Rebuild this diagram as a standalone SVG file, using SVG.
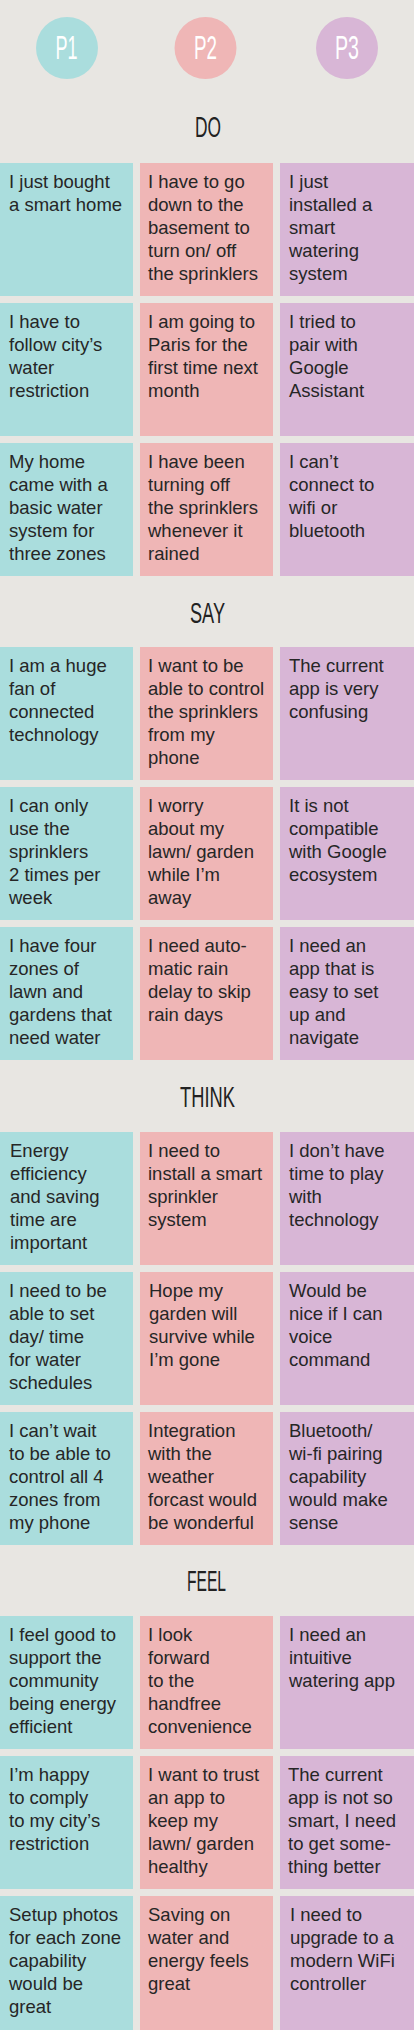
<svg xmlns="http://www.w3.org/2000/svg" width="414" height="2030" viewBox="0 0 414 2030">
<style>
.bg{fill:#e8e6e2}
.c1{fill:#aadddd}.c2{fill:#efb6b6}.c3{fill:#d8b6d6}
.t{font-family:"Liberation Sans",Arial,sans-serif;font-size:18.5px;fill:#262626}
.h{font-family:"Liberation Sans",Arial,sans-serif;font-size:29px;fill:#222;text-anchor:middle}
.p{font-family:"Liberation Sans",Arial,sans-serif;font-size:33.5px;fill:#fff;text-anchor:middle}
</style>
<rect class="bg" x="0" y="0" width="414" height="2030"/>
<g id="personas">
<g id="p1"><circle class="c1" cx="67" cy="48" r="31"/><text class="p" x="66.5" y="59" textLength="22" lengthAdjust="spacingAndGlyphs">P1</text></g>
<g id="p2"><circle class="c2" cx="205.5" cy="48" r="31"/><text class="p" x="205.5" y="59" textLength="23" lengthAdjust="spacingAndGlyphs">P2</text></g>
<g id="p3"><circle class="c3" cx="347" cy="48" r="31"/><text class="p" x="347" y="59" textLength="24" lengthAdjust="spacingAndGlyphs">P3</text></g>
</g>
<g id="headings">
<text id="h-do" class="h" x="208" y="137" textLength="26" lengthAdjust="spacingAndGlyphs">DO</text>
<text id="h-say" class="h" x="207.5" y="623" textLength="35" lengthAdjust="spacingAndGlyphs">SAY</text>
<text id="h-think" class="h" x="207.5" y="1107" textLength="55" lengthAdjust="spacingAndGlyphs">THINK</text>
<text id="h-feel" class="h" x="206.5" y="1591" textLength="39" lengthAdjust="spacingAndGlyphs">FEEL</text>
</g>
<g id="connectors"/>

<!-- DO -->
<g id="do-p1-1"><rect class="c1" x="0" y="163" width="133" height="133"/><text class="t" x="9" y="188"><tspan x="9">I just bought</tspan><tspan x="9" dy="23">a smart home</tspan></text></g>
<g id="do-p2-1"><rect class="c2" x="140" y="163" width="133" height="133"/><text class="t" x="148" y="188"><tspan x="148">I have to go</tspan><tspan x="148" dy="23">down to the</tspan><tspan x="148" dy="23">basement to</tspan><tspan x="148" dy="23">turn on/ off</tspan><tspan x="148" dy="23">the sprinklers</tspan></text></g>
<g id="do-p3-1"><rect class="c3" x="280" y="163" width="134" height="133"/><text class="t" x="289" y="188"><tspan x="289">I just</tspan><tspan x="289" dy="23">installed a</tspan><tspan x="289" dy="23">smart</tspan><tspan x="289" dy="23">watering</tspan><tspan x="289" dy="23">system</tspan></text></g>

<g id="do-p1-2"><rect class="c1" x="0" y="303" width="133" height="133"/><text class="t" x="9" y="328"><tspan x="9">I have to</tspan><tspan x="9" dy="23">follow city’s</tspan><tspan x="9" dy="23">water</tspan><tspan x="9" dy="23">restriction</tspan></text></g>
<g id="do-p2-2"><rect class="c2" x="140" y="303" width="133" height="133"/><text class="t" x="148" y="328"><tspan x="148">I am going to</tspan><tspan x="148" dy="23">Paris for the</tspan><tspan x="148" dy="23">first time next</tspan><tspan x="148" dy="23">month</tspan></text></g>
<g id="do-p3-2"><rect class="c3" x="280" y="303" width="134" height="133"/><text class="t" x="289" y="328"><tspan x="289">I tried to</tspan><tspan x="289" dy="23">pair with</tspan><tspan x="289" dy="23">Google</tspan><tspan x="289" dy="23">Assistant</tspan></text></g>

<g id="do-p1-3"><rect class="c1" x="0" y="443" width="133" height="133"/><text class="t" x="9" y="468"><tspan x="9">My home</tspan><tspan x="9" dy="23">came with a</tspan><tspan x="9" dy="23">basic water</tspan><tspan x="9" dy="23">system for</tspan><tspan x="9" dy="23">three zones</tspan></text></g>
<g id="do-p2-3"><rect class="c2" x="140" y="443" width="133" height="133"/><text class="t" x="148" y="468"><tspan x="148">I have been</tspan><tspan x="148" dy="23">turning off</tspan><tspan x="148" dy="23">the sprinklers</tspan><tspan x="148" dy="23">whenever it</tspan><tspan x="148" dy="23">rained</tspan></text></g>
<g id="do-p3-3"><rect class="c3" x="280" y="443" width="134" height="133"/><text class="t" x="289" y="468"><tspan x="289">I can’t</tspan><tspan x="289" dy="23">connect to</tspan><tspan x="289" dy="23">wifi or</tspan><tspan x="289" dy="23">bluetooth</tspan></text></g>

<!-- SAY -->
<g id="say-p1-1"><rect class="c1" x="0" y="647" width="133" height="133"/><text class="t" x="9" y="672"><tspan x="9">I am a huge</tspan><tspan x="9" dy="23">fan of</tspan><tspan x="9" dy="23">connected</tspan><tspan x="9" dy="23">technology</tspan></text></g>
<g id="say-p2-1"><rect class="c2" x="140" y="647" width="133" height="133"/><text class="t" x="148" y="672"><tspan x="148">I want to be</tspan><tspan x="148" dy="23">able to control</tspan><tspan x="148" dy="23">the sprinklers</tspan><tspan x="148" dy="23">from my</tspan><tspan x="148" dy="23">phone</tspan></text></g>
<g id="say-p3-1"><rect class="c3" x="280" y="647" width="134" height="133"/><text class="t" x="289" y="672"><tspan x="289">The current</tspan><tspan x="289" dy="23">app is very</tspan><tspan x="289" dy="23">confusing</tspan></text></g>

<g id="say-p1-2"><rect class="c1" x="0" y="787" width="133" height="133"/><text class="t" x="9" y="812"><tspan x="9">I can only</tspan><tspan x="9" dy="23">use the</tspan><tspan x="9" dy="23">sprinklers</tspan><tspan x="9" dy="23">2 times per</tspan><tspan x="9" dy="23">week</tspan></text></g>
<g id="say-p2-2"><rect class="c2" x="140" y="787" width="133" height="133"/><text class="t" x="148" y="812"><tspan x="148">I worry</tspan><tspan x="148" dy="23">about my</tspan><tspan x="148" dy="23">lawn/ garden</tspan><tspan x="148" dy="23">while I’m</tspan><tspan x="148" dy="23">away</tspan></text></g>
<g id="say-p3-2"><rect class="c3" x="280" y="787" width="134" height="133"/><text class="t" x="289" y="812"><tspan x="289">It is not</tspan><tspan x="289" dy="23">compatible</tspan><tspan x="289" dy="23">with Google</tspan><tspan x="289" dy="23">ecosystem</tspan></text></g>

<g id="say-p1-3"><rect class="c1" x="0" y="927" width="133" height="133"/><text class="t" x="9" y="952"><tspan x="9">I have four</tspan><tspan x="9" dy="23">zones of</tspan><tspan x="9" dy="23">lawn and</tspan><tspan x="9" dy="23">gardens that</tspan><tspan x="9" dy="23">need water</tspan></text></g>
<g id="say-p2-3"><rect class="c2" x="140" y="927" width="133" height="133"/><text class="t" x="148" y="952"><tspan x="148">I need auto-</tspan><tspan x="148" dy="23">matic rain</tspan><tspan x="148" dy="23">delay to skip</tspan><tspan x="148" dy="23">rain days</tspan></text></g>
<g id="say-p3-3"><rect class="c3" x="280" y="927" width="134" height="133"/><text class="t" x="289" y="952"><tspan x="289">I need an</tspan><tspan x="289" dy="23">app that is</tspan><tspan x="289" dy="23">easy to set</tspan><tspan x="289" dy="23">up and</tspan><tspan x="289" dy="23">navigate</tspan></text></g>

<!-- THINK -->
<g id="think-p1-1"><rect class="c1" x="0" y="1132" width="133" height="133"/><text class="t" x="10" y="1157"><tspan x="10">Energy</tspan><tspan x="10" dy="23">efficiency</tspan><tspan x="10" dy="23">and saving</tspan><tspan x="10" dy="23">time are</tspan><tspan x="10" dy="23">important</tspan></text></g>
<g id="think-p2-1"><rect class="c2" x="140" y="1132" width="133" height="133"/><text class="t" x="148" y="1157"><tspan x="148">I need to</tspan><tspan x="148" dy="23">install a smart</tspan><tspan x="148" dy="23">sprinkler</tspan><tspan x="148" dy="23">system</tspan></text></g>
<g id="think-p3-1"><rect class="c3" x="280" y="1132" width="134" height="133"/><text class="t" x="289" y="1157"><tspan x="289">I don’t have</tspan><tspan x="289" dy="23">time to play</tspan><tspan x="289" dy="23">with</tspan><tspan x="289" dy="23">technology</tspan></text></g>

<g id="think-p1-2"><rect class="c1" x="0" y="1272" width="133" height="133"/><text class="t" x="9" y="1297"><tspan x="9">I need to be</tspan><tspan x="9" dy="23">able to set</tspan><tspan x="9" dy="23">day/ time</tspan><tspan x="9" dy="23">for water</tspan><tspan x="9" dy="23">schedules</tspan></text></g>
<g id="think-p2-2"><rect class="c2" x="140" y="1272" width="133" height="133"/><text class="t" x="149" y="1297"><tspan x="149">Hope my</tspan><tspan x="149" dy="23">garden will</tspan><tspan x="149" dy="23">survive while</tspan><tspan x="149" dy="23">I’m gone</tspan></text></g>
<g id="think-p3-2"><rect class="c3" x="280" y="1272" width="134" height="133"/><text class="t" x="289" y="1297"><tspan x="289">Would be</tspan><tspan x="289" dy="23">nice if I can</tspan><tspan x="289" dy="23">voice</tspan><tspan x="289" dy="23">command</tspan></text></g>

<g id="think-p1-3"><rect class="c1" x="0" y="1412" width="133" height="133"/><text class="t" x="9" y="1437"><tspan x="9">I can’t wait</tspan><tspan x="9" dy="23">to be able to</tspan><tspan x="9" dy="23">control all 4</tspan><tspan x="9" dy="23">zones from</tspan><tspan x="9" dy="23">my phone</tspan></text></g>
<g id="think-p2-3"><rect class="c2" x="140" y="1412" width="133" height="133"/><text class="t" x="148" y="1437"><tspan x="148">Integration</tspan><tspan x="148" dy="23">with the</tspan><tspan x="148" dy="23">weather</tspan><tspan x="148" dy="23">forcast would</tspan><tspan x="148" dy="23">be wonderful</tspan></text></g>
<g id="think-p3-3"><rect class="c3" x="280" y="1412" width="134" height="133"/><text class="t" x="289" y="1437"><tspan x="289">Bluetooth/</tspan><tspan x="289" dy="23">wi-fi pairing</tspan><tspan x="289" dy="23">capability</tspan><tspan x="289" dy="23">would make</tspan><tspan x="289" dy="23">sense</tspan></text></g>

<!-- FEEL -->
<g id="feel-p1-1"><rect class="c1" x="0" y="1616" width="133" height="133"/><text class="t" x="9" y="1641"><tspan x="9">I feel good to</tspan><tspan x="9" dy="23">support the</tspan><tspan x="9" dy="23">community</tspan><tspan x="9" dy="23">being energy</tspan><tspan x="9" dy="23">efficient</tspan></text></g>
<g id="feel-p2-1"><rect class="c2" x="140" y="1616" width="133" height="133"/><text class="t" x="148" y="1641"><tspan x="148">I look</tspan><tspan x="148" dy="23">forward</tspan><tspan x="148" dy="23">to the</tspan><tspan x="148" dy="23">handfree</tspan><tspan x="148" dy="23">convenience</tspan></text></g>
<g id="feel-p3-1"><rect class="c3" x="280" y="1616" width="134" height="133"/><text class="t" x="289" y="1641"><tspan x="289">I need an</tspan><tspan x="289" dy="23">intuitive</tspan><tspan x="289" dy="23">watering app</tspan></text></g>

<g id="feel-p1-2"><rect class="c1" x="0" y="1756" width="133" height="133"/><text class="t" x="9" y="1781"><tspan x="9">I’m happy</tspan><tspan x="9" dy="23">to comply</tspan><tspan x="9" dy="23">to my city’s</tspan><tspan x="9" dy="23">restriction</tspan></text></g>
<g id="feel-p2-2"><rect class="c2" x="140" y="1756" width="133" height="133"/><text class="t" x="148" y="1781"><tspan x="148">I want to trust</tspan><tspan x="148" dy="23">an app to</tspan><tspan x="148" dy="23">keep my</tspan><tspan x="148" dy="23">lawn/ garden</tspan><tspan x="148" dy="23">healthy</tspan></text></g>
<g id="feel-p3-2"><rect class="c3" x="280" y="1756" width="134" height="133"/><text class="t" x="288" y="1781"><tspan x="288">The current</tspan><tspan x="288" dy="23">app is not so</tspan><tspan x="288" dy="23">smart, I need</tspan><tspan x="288" dy="23">to get some-</tspan><tspan x="288" dy="23">thing better</tspan></text></g>

<g id="feel-p1-3"><rect class="c1" x="0" y="1896" width="133" height="134"/><text class="t" x="9" y="1921"><tspan x="9">Setup photos</tspan><tspan x="9" dy="23">for each zone</tspan><tspan x="9" dy="23">capability</tspan><tspan x="9" dy="23">would be</tspan><tspan x="9" dy="23">great</tspan></text></g>
<g id="feel-p2-3"><rect class="c2" x="140" y="1896" width="133" height="134"/><text class="t" x="148" y="1921"><tspan x="148">Saving on</tspan><tspan x="148" dy="23">water and</tspan><tspan x="148" dy="23">energy feels</tspan><tspan x="148" dy="23">great</tspan></text></g>
<g id="feel-p3-3"><rect class="c3" x="280" y="1896" width="134" height="134"/><text class="t" x="290" y="1921"><tspan x="290">I need to</tspan><tspan x="290" dy="23">upgrade to a</tspan><tspan x="290" dy="23">modern WiFi</tspan><tspan x="290" dy="23">controller</tspan></text></g>
</svg>
